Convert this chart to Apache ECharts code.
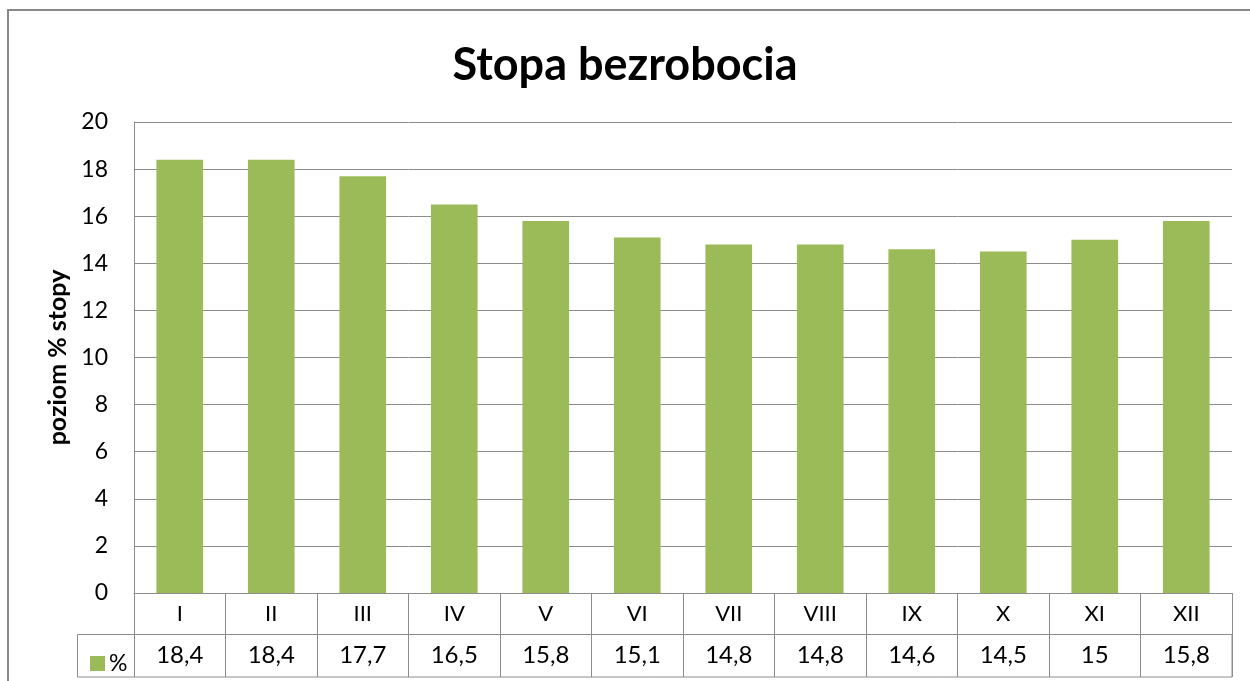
<!DOCTYPE html>
<html>
<head>
<meta charset="utf-8">
<script src="https://cdn.jsdelivr.net/npm/echarts@6/dist/echarts.min.js"></script>
<style>html,body{margin:0;padding:0;background:#fff}#c{width:1250px;height:681px}</style>
</head>
<body>
<div id="c"></div>
<script>
const categories = ['I','II','III','IV','V','VI','VII','VIII','IX','X','XI','XII'];
const values = [18.4, 18.4, 17.7, 16.5, 15.8, 15.1, 14.8, 14.8, 14.6, 14.5, 15, 15.8];
const seriesName = '%';
const titleText = 'Stopa bezrobocia';
const yAxisName = 'poziom % stopy';

const FONT = 'Lato, "Open Sans", sans-serif';
const LINE = '#8c8c8c';
const valueLabels = values.map(v => String(v).replace('.', ','));

const chart = echarts.init(document.getElementById('c'));
chart.setOption({
  animation: false,
  backgroundColor: '#fff',
  title: {
    text: titleText, left: 'center', top: 38,
    textStyle: { fontFamily: FONT, fontSize: 45, fontWeight: 'bold', color: '#000' }
  },
  legend: {
    left: 85, top: 647, itemWidth: 15, itemHeight: 15, itemGap: 4,
    icon: 'rect', data: [seriesName],
    textStyle: { fontFamily: FONT, fontSize: 23, color: '#000', padding: [0,0,0,-1] }
  },
  grid: { left: 134, right: 18, top: 122, bottom: 88 },
  xAxis: [
    {
      type: 'category', data: categories, position: 'bottom',
      axisLine: { lineStyle: { color: LINE, width: 1 } },
      axisTick: { show: true, length: 41, interval: 0, lineStyle: { color: LINE } },
      axisLabel: { interval: 0, margin: 10, fontFamily: FONT, fontSize: 22, color: '#000' }
    },
    {
      type: 'category', data: valueLabels, position: 'bottom', offset: 41,
      axisLine: { show: true, lineStyle: { color: LINE, width: 1 } },
      axisTick: { show: true, length: 43, interval: 0, lineStyle: { color: LINE } },
      axisLabel: { interval: 0, margin: 9, fontFamily: FONT, fontSize: 24, color: '#000' }
    }
  ],
  yAxis: {
    type: 'value', min: 0, max: 20, interval: 2,
    name: yAxisName, nameLocation: 'middle', nameGap: 62, nameRotate: 90,
    nameTextStyle: { fontFamily: FONT, fontSize: 25, fontWeight: 'bold', color: '#000' },
    axisLine: { show: true, lineStyle: { color: LINE } },
    axisTick: { show: false },
    axisLabel: { margin: 26, fontFamily: FONT, fontSize: 23, color: '#000' },
    splitLine: { lineStyle: { color: LINE, width: 1 } }
  },
  series: [{
    name: seriesName, type: 'bar', data: values, xAxisIndex: 0,
    barCategoryGap: '49%',
    itemStyle: { color: '#9BBB59' }
  }],
  graphic: [
    { type: 'rect', shape: { x: 8, y: 10, width: 1300, height: 700 },
      style: { fill: 'none', stroke: '#888', lineWidth: 2 }, silent: true },
    { type: 'rect', shape: { x: 77.5, y: 634.5, width: 1154.5, height: 42.5 },
      style: { fill: 'none', stroke: LINE, lineWidth: 1 }, silent: true }
  ]
});
</script>
</body>
</html>
